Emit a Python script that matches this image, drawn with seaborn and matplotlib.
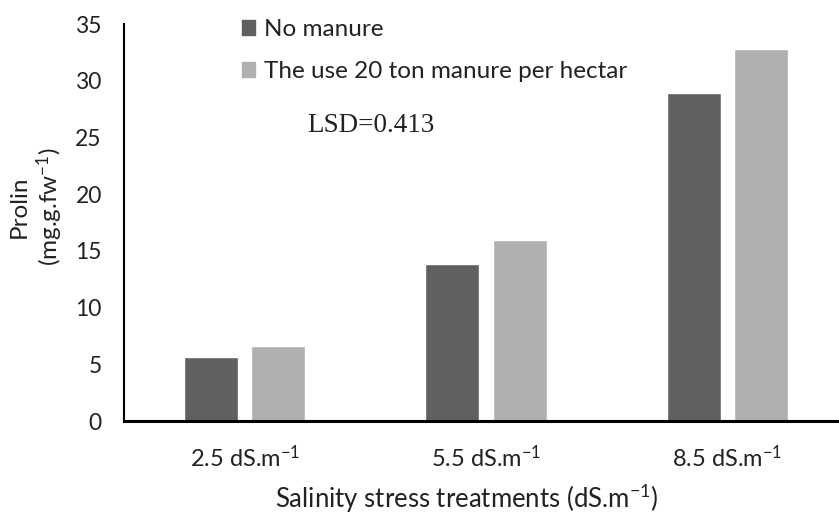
import pandas as pd
import matplotlib.pyplot as plt
import seaborn as sns

# data
salinity = ["2.5 dS.m$^{-1}$", "5.5 dS.m$^{-1}$", "8.5 dS.m$^{-1}$"]
no_manure = [5.6, 13.8, 28.9]
with_manure = [6.6, 16.0, 32.8]
series = ["No manure", "The use 20 ton manure per hectar"]

df = pd.DataFrame({
    "salinity": salinity * 2,
    "prolin": no_manure + with_manure,
    "treatment": [series[0]] * 3 + [series[1]] * 3,
})

sns.set_style("white")
plt.rcParams["font.family"] = ["Lato", "DejaVu Sans"]
plt.rcParams["mathtext.fontset"] = "custom"
plt.rcParams["mathtext.rm"] = "Lato"
plt.rcParams["mathtext.it"] = "Lato:italic"
plt.rcParams["mathtext.default"] = "rm"

txt = "#222222"
colors = ["#606060", "#b0b0b0"]

fig = plt.figure(figsize=(8.39, 5.14), dpi=100)
ax = fig.add_axes([124 / 839, 93 / 514, 724 / 839, 397 / 514])

sns.barplot(data=df, x="salinity", y="prolin", hue="treatment",
            palette=colors, width=0.56, gap=0.2,
            saturation=1, ax=ax, legend=False)

ax.set_xlim(-0.5, 2.5)
ax.set_ylim(0, 35)
ax.set_yticks(range(0, 36, 5))
ax.tick_params(axis="y", length=0, pad=16, labelsize=16.5, labelcolor=txt)
ax.tick_params(axis="x", which="major", length=0, pad=17, labelcolor=txt)
for lab in ax.get_xticklabels():
    lab.set_fontsize(17)
ax.set_xticks([-0.5, 0.5, 1.5, 2.5], minor=True)
ax.tick_params(axis="x", which="minor", length=7, width=1.5, color="black", direction="out")

for s in ["top", "right"]:
    ax.spines[s].set_visible(False)
ax.spines["left"].set_linewidth(1.5)
ax.spines["left"].set_color("black")
ax.spines["bottom"].set_linewidth(2.2)
ax.spines["bottom"].set_color("black")

ax.set_xlabel("Salinity stress treatments (dS.m$^{-1}$)", fontsize=18.5, color=txt)
ax.xaxis.set_label_coords((467 - 124) / 724, (421 - 499) / 397)
ax.xaxis.label.set_va("center")
ax.set_ylabel("Prolin\n(mg.g.fw$^{-1}$)", fontsize=17.5, color=txt, linespacing=1.2)
ax.yaxis.set_label_coords((37 - 124) / 724, (421 - 207) / 397)
ax.yaxis.label.set_va("center")

handles = [plt.Rectangle((0, 0), 1, 1, color=c) for c in colors]
ax.legend(handles, series, loc="upper left", bbox_to_anchor=(242 / 839, 1 - 19 / 514),
          bbox_transform=fig.transFigure, frameon=False, fontsize=17.5,
          handlelength=0.55, handleheight=0.55, handletextpad=0.34,
          labelspacing=0.88, borderpad=0, borderaxespad=0, labelcolor=txt)

fig.text(307 / 839, 1 - 126 / 514, "LSD=0.413", family="Liberation Serif",
         fontsize=19.5, color=txt, va="center", ha="left")

fig.savefig("out.png", dpi=100)
